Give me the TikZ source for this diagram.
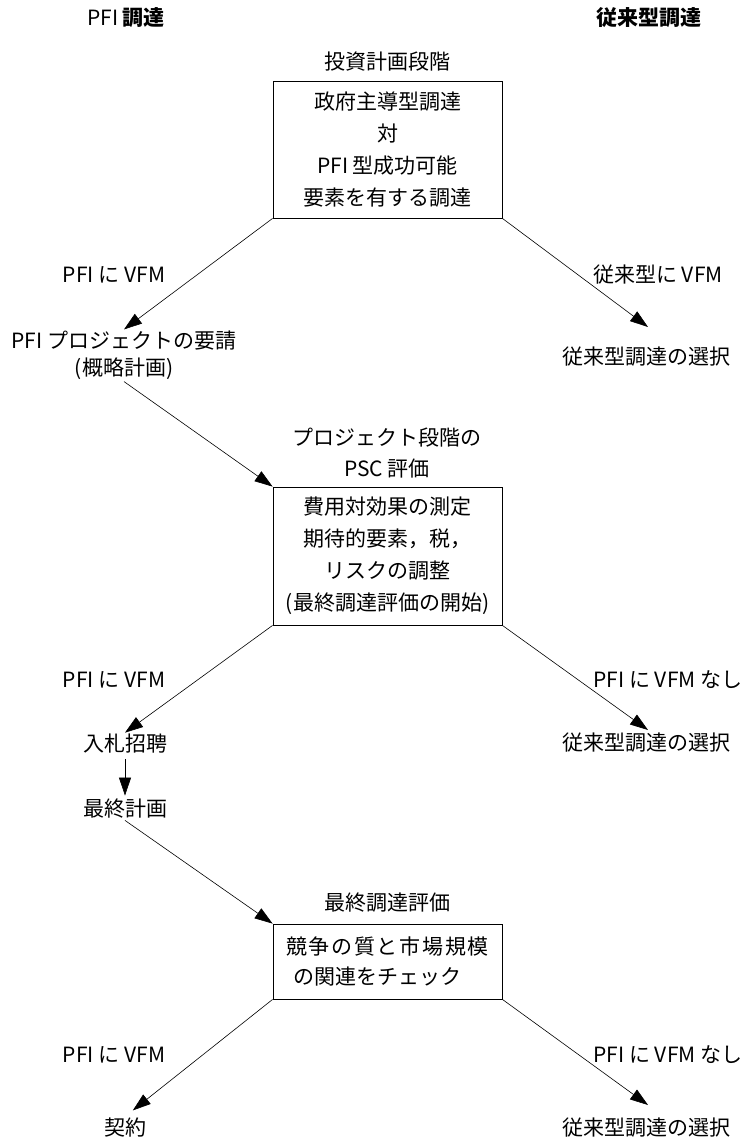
\documentclass[tikz,border=0pt]{standalone}
\usepackage{fontspec}
\setmainfont{Noto Sans CJK JP}
\usetikzlibrary{arrows.meta}
\begin{document}
\begin{tikzpicture}[x=1pt,y=-1pt,
  every node/.style={font=\fontsize{21}{32}\selectfont, inner sep=1.5pt},
  stagebox/.style={draw, line width=0.8pt, minimum width=229pt, align=center, inner sep=0pt},
  twoline/.style={align=center, font=\fontsize{21}{27}\selectfont},
  arr/.style={-{Triangle[length=18pt,width=12pt]}, line width=0.6pt},
]
\path[fill=white, use as bounding box] (0,0) rectangle (749,1140);

% headers
\node (hpfi) at (126,18) {PFI \textbf{調達}};
\node (hconv) at (649,18) {\textbf{従来型調達}};

% stage 1
\node (s1) at (387,62) {投資計画段階};
\node[stagebox, minimum height=137pt] (b1) at (387.5,149.5)
  {政府主導型調達\\対\\PFI 型成功可能\\要素を有する調達};
\node (l1) at (114,275) {PFI に VFM};
\node (r1) at (658,275) {従来型に VFM};
\node[twoline] (req) at (124,355.5) {PFI プロジェクトの要請\\(概略計画)};
\node (c1) at (646,357) {従来型調達の選択};
\coordinate (t1) at (648,327);

% stage 2
\node[align=center, font=\fontsize{21}{31}\selectfont] (s2) at (387,453.5) {プロジェクト段階の\\PSC 評価};
\node[stagebox, minimum height=138pt] (b2) at (387.5,556)
  {費用対効果の測定\\期待的要素，税，\\リスクの調整\\(最終調達評価の開始)};
\node (l2) at (114,680) {PFI に VFM};
\node (r2) at (668,680) {PFI に VFM なし};
\node (bid) at (125,744) {入札招聘};
\node (c2) at (646,743) {従来型調達の選択};
\coordinate (t2) at (648,730);
\node (fin) at (125,809) {最終計画};

% stage 3
\node (s3) at (387,903) {最終調達評価};
\node[stagebox, minimum height=75pt, font=\fontsize{21}{30}\selectfont] (b3) at (387.5,961.5)
  {{\addfontfeature{LetterSpace=8}競争の質と市場規模}\\の関連をチェック　};
\node (l3) at (114,1055) {PFI に VFM};
\node (r3) at (668,1055) {PFI に VFM なし};
\node (con) at (125,1128) {契約};
\node (c3) at (646,1128) {従来型調達の選択};
\coordinate (t3) at (648,1105);

% connectors
\draw[arr] (b1.south west) -- (req.north);
\draw[arr] (b1.south east) -- (t1);
\draw[arr] (req.south) -- (b2.north west);
\draw[arr] (b2.south west) -- (bid.north);
\draw[arr] (b2.south east) -- (t2);
\draw[arr, shorten <=4pt, shorten >=2pt] (bid.south) -- (fin.north);
\draw[arr] (fin.south) -- (b3.north west);
\draw[arr, shorten >=10pt] (b3.south west) -- (con.north);
\draw[arr] (b3.south east) -- (t3);
\end{tikzpicture}
\end{document}
